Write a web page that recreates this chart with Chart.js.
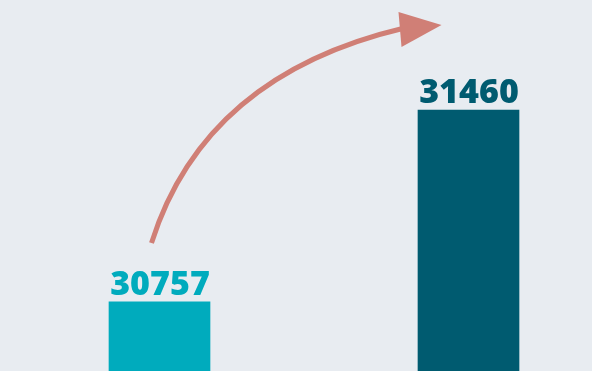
<!DOCTYPE html>
<html>
<head>
<meta charset="utf-8">
<script src="https://cdn.jsdelivr.net/npm/chart.js@4"></script>
<style>
  html, body { margin: 0; padding: 0; background: #e8ecf1; }
  #wrap { width: 592px; height: 371px; position: relative; }
</style>
</head>
<body>
<div id="wrap"><canvas id="growthChart"></canvas></div>
<script>
// two periods, before and after
var periods = ["Before", "After"];
var totals = [30757, 31460];
var barColors = ["#00abbd", "#005b70"];

// value labels on top of each bar
var valueLabels = {
  id: 'valueLabels',
  afterDatasetsDraw: function (chart) {
    var ctx = chart.ctx;
    var meta = chart.getDatasetMeta(0);
    ctx.save();
    ctx.font = "800 34px 'Open Sans'";
    ctx.textAlign = 'center';
    ctx.textBaseline = 'alphabetic';
    meta.data.forEach(function (bar, i) {
      ctx.fillStyle = barColors[i];
      ctx.fillText(String(totals[i]), bar.x + 0.5, bar.y - 7);
    });
    ctx.restore();
  }
};

// curved arrow from the first label up towards the second bar
var growthArrow = {
  id: 'growthArrow',
  afterDatasetsDraw: function (chart) {
    var ctx = chart.ctx;
    var meta = chart.getDatasetMeta(0);
    var a = meta.data[0], b = meta.data[1];
    var sx = a.x - 8, sy = a.y - 59;
    var ex = b.x - 64, ey = 28;
    ctx.save();
    ctx.strokeStyle = '#d07f76';
    ctx.fillStyle = '#d07f76';
    ctx.lineWidth = 5;
    ctx.beginPath();
    ctx.moveTo(sx, sy);
    ctx.quadraticCurveTo(a.x + 45, 75, ex, ey);
    ctx.stroke();
    ctx.beginPath();
    ctx.moveTo(b.x - 27, 25);
    ctx.lineTo(b.x - 70, 12);
    ctx.lineTo(b.x - 67, 47);
    ctx.closePath();
    ctx.fill();
    ctx.restore();
  }
};

var ctx = document.getElementById("growthChart");
var growthChart = new Chart(ctx, {
  type: 'bar',
  data: {
    labels: periods,
    datasets: [
      {
        data: totals,
        backgroundColor: barColors,
        borderWidth: 0,
        barThickness: 101,
        clip: false
      }
    ]
  },
  options: {
    responsive: true,
    maintainAspectRatio: false,
    animation: false,
    layout: { padding: { left: 159.5, right: 123.5, top: 0, bottom: 0 } },
    plugins: {
      legend: { display: false },
      tooltip: { enabled: false }
    },
    scales: {
      x: { display: false, offset: false },
      y: { display: false, min: 30504, max: 31863 }
    }
  },
  plugins: [growthArrow, valueLabels]
});
</script>
</body>
</html>
